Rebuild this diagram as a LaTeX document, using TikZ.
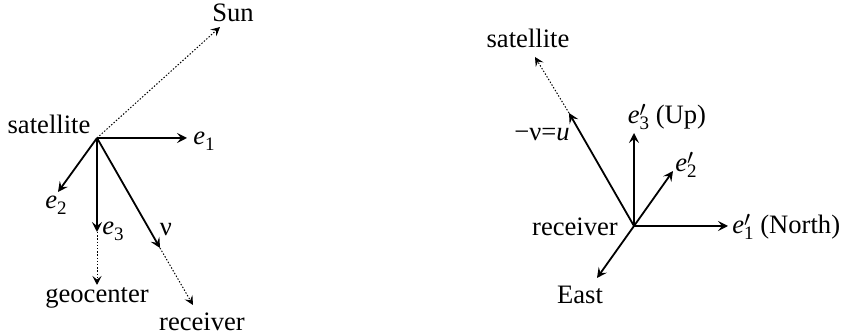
\documentclass[tikz,border=0pt]{standalone}
\usepackage{fontspec}
\setmainfont{Liberation Serif}
\usetikzlibrary{arrows.meta}
\newcommand{\subsz}{\fontsize{9.5}{10}\selectfont}
\newcommand{\ev}[1]{\textit{e}\raisebox{-0.5ex}{\subsz #1}}
\newcommand{\evp}[1]{\textit{e}\rlap{\raisebox{0.55ex}{\fontsize{11}{12}\selectfont$\prime$}}\raisebox{-0.5ex}{\subsz #1}}
\begin{document}
\begin{tikzpicture}[x=0.5pt,y=-0.5pt,
  lbl/.style={inner sep=0pt,font=\fontsize{13.3}{15}\selectfont},
  vec/.style={line width=0.9pt,-{Stealth[length=5pt,width=5pt,inset=2pt]}},
  dotvec/.style={line width=0.5pt,dash pattern=on 0.7pt off 0.9pt,-{Stealth[length=4.5pt,width=4.5pt,inset=1.8pt]}}]
\useasboundingbox (0,0) rectangle (842,336);
% ---------- left panel ----------
\coordinate (S) at (97,138);
\coordinate (sunT) at (220,27);
\coordinate (e1T) at (187,138);
\coordinate (e2T) at (58,192);
\coordinate (e3T) at (97,232);
\coordinate (geoT) at (97,285);
\coordinate (nuT) at (160,248);
\coordinate (recT) at (193,305);
\draw[dotvec] (S) -- (sunT);
\draw[vec] (S) -- (e1T);
\draw[vec] (S) -- (e2T);
\draw[vec,line width=1.1pt] (S) -- (e3T);
\draw[vec] (S) -- (nuT);
\draw[dotvec] (e3T) -- (geoT);
\draw[dotvec] (nuT) -- (recT);
\node[lbl] (sun) at (233,13) {Sun};
\node[lbl] (sat) at (49,124) {satellite};
\node[lbl,anchor=west] (e1) at (193,141) {\ev{1}};
\node[lbl] (e2) at (56,205) {\ev{2}};
\node[lbl,anchor=west] (e3) at (102,231) {\ev{3}};
\node[lbl] (nu) at (166,230) {ν};
\node[lbl] (geo) at (97,298) {geocenter};
\node[lbl] (rec) at (202,322) {receiver};
% ---------- right panel ----------
\coordinate (O) at (634,226);
\coordinate (e1pT) at (728,226);
\coordinate (e3pT) at (634,133);
\coordinate (e2pT) at (673,171);
\coordinate (eastT) at (597,278);
\coordinate (uT) at (569,113);
\coordinate (satT) at (535,57);
\draw[vec] (O) -- (e1pT);
\draw[vec] (O) -- (e3pT);
\draw[vec] (O) -- (e2pT);
\draw[vec] (O) -- (eastT);
\draw[vec] (O) -- (uT);
\draw[dotvec] (uT) -- (satT);
\node[lbl,anchor=west] (e1p) at (732,227) {\evp{1} (North)};
\node[lbl] (e3p) at (667,117) {\evp{3} (Up)};
\node[lbl,anchor=west] (e2p) at (675,165) {\evp{2}};
\node[lbl] (east) at (580,295) {East};
\node[lbl] (sat2) at (528,38) {satellite};
\node[lbl] (nuu) at (542,135) {−ν=\textit{u}};
\node[lbl] (rec2) at (575,227) {receiver};
\end{tikzpicture}
\end{document}
